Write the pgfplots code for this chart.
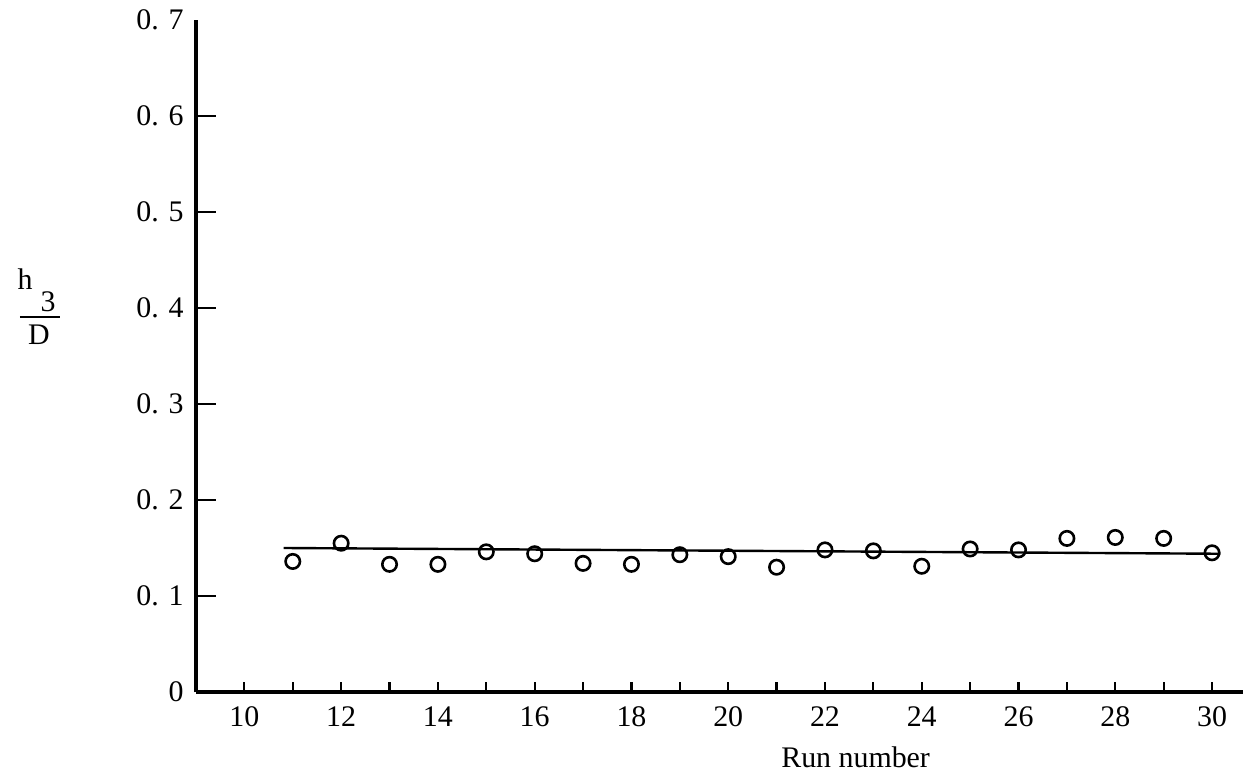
\documentclass[border=0pt]{standalone}
\usepackage{pgfplots}
\pgfplotsset{compat=1.18}
\usepackage{fontspec}
\setmainfont{Liberation Serif}
\begin{document}
\fontsize{15pt}{18pt}\selectfont
\begin{tikzpicture}
\pgfplotsset{common/.style={
  scale only axis,
  width=523.5bp, height=336bp,
  xmin=9, xmax=30.64, ymin=0, ymax=0.7,
  axis x line=bottom, axis y line=left,
  axis line style={line width=1.6bp, -},
  /pgf/number format/assume math mode=true,
  tick style={black, line width=1.1bp},
  tick align=inside,
  clip=false,
}}
\begin{axis}[common,
  xtick={10,11,...,30},
  xticklabels={10,,12,,14,,16,,18,,20,,22,,24,,26,,28,,30},
  ytick={0.7}, yticklabels={0. 7},
  y tick style={draw=none},
  yticklabel style={xshift=-1bp},
  major tick length=5bp,
  xticklabel style={yshift=-2bp},
  xlabel={Run number},
  xlabel style={at={(rel axis cs:0.63,0)}, anchor=north, yshift=-22bp},
]
\addplot[only marks, mark=o, mark size=3.6bp, mark options={line width=1.3bp, black}] coordinates {
(11,0.136) (12,0.155) (13,0.133) (14,0.133) (15,0.146) (16,0.144) (17,0.134)
(18,0.133) (19,0.143) (20,0.141) (21,0.130) (22,0.148) (23,0.147) (24,0.131)
(25,0.149) (26,0.148) (27,0.160) (28,0.161) (29,0.160) (30,0.145)
};
\addplot[black, line width=1.2bp] coordinates {(10.81,0.150) (30.17,0.144)};
\end{axis}
\begin{axis}[common,
  xtick=\empty,
  ytick={0,0.1,0.2,0.3,0.4,0.5,0.6},
  yticklabels={0,0. 1,0. 2,0. 3,0. 4,0. 5,0. 6},
  major tick length=10bp,
  yticklabel style={xshift=-1bp},
]
\end{axis}
\node[anchor=base, inner sep=0pt] at (-85.5bp,201bp) {h};
\node[anchor=base, inner sep=0pt] at (-74bp,190bp) {3};
\draw[line width=1bp] (-88bp,187.5bp) -- (-68bp,187.5bp);
\node[anchor=base, inner sep=0pt] at (-78.5bp,173.5bp) {D};
\pgfresetboundingbox
\useasboundingbox (-98bp,-42.5bp) rectangle (526bp,346bp);
\end{tikzpicture}
\end{document}
